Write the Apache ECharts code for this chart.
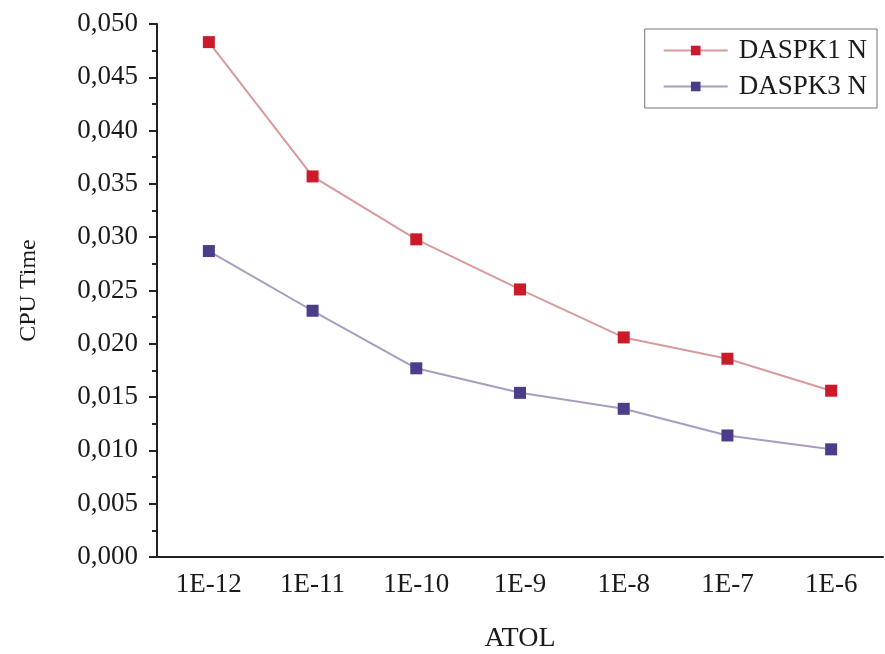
<!DOCTYPE html>
<html>
<head>
<meta charset="utf-8">
<script src="https://cdn.jsdelivr.net/npm/echarts@6/dist/echarts.min.js"></script>
<style>html,body{margin:0;padding:0;background:#fff}#c{width:885px;height:654px}</style>
</head>
<body>
<div id="c"></div>
<script>
const categories = ['1E-12','1E-11','1E-10','1E-9','1E-8','1E-7','1E-6'];
const daspk1 = [0.0483, 0.0357, 0.0298, 0.0251, 0.0206, 0.0186, 0.0156];
const daspk3 = [0.0287, 0.0231, 0.0177, 0.0154, 0.0139, 0.0114, 0.0101];
const seriesNames = ['DASPK1 N', 'DASPK3 N'];
const yTicks = {min: 0, max: 0.05, interval: 0.005};

const font = '"Liberation Serif", "Times New Roman", serif';
const chart = echarts.init(document.getElementById('c'));
chart.setOption({
  animation: false,
  backgroundColor: '#fff',
  grid: {left: 157, right: 2, top: 24, bottom: 97, outerBoundsMode: 'none', containLabel: false},
  legend: {
    right: 8, top: 29,
    orient: 'vertical',
    itemWidth: 64, itemHeight: 12, itemGap: 9,
    padding: [8, 10, 8, 18],
    borderColor: '#777', borderWidth: 1,
    textStyle: {fontFamily: font, fontSize: 27, color: '#1a1a1a', padding: [0, 0, 0, 6]},
    data: seriesNames
  },
  xAxis: [{
    type: 'category', data: categories, boundaryGap: true,
    name: 'ATOL', nameLocation: 'middle', nameGap: 68,
    nameTextStyle: {fontFamily: font, fontSize: 28, color: '#1a1a1a'},
    axisLine: {lineStyle: {color: '#222', width: 2}},
    axisTick: {alignWithLabel: true, length: 8, lineStyle: {color: '#222', width: 2}},
    axisLabel: {fontFamily: font, fontSize: 27, color: '#1a1a1a', margin: 14},
    splitLine: {show: false}
  }, {
    type: 'category', data: categories, boundaryGap: true, position: 'bottom',
    axisLine: {show: false},
    axisTick: {alignWithLabel: false, length: 5, lineStyle: {color: '#222', width: 2}},
    axisLabel: {show: false},
    splitLine: {show: false}
  }],
  yAxis: {
    type: 'value', min: yTicks.min, max: yTicks.max, interval: yTicks.interval,
    name: 'CPU Time', nameLocation: 'middle', nameGap: 116,
    nameTextStyle: {fontFamily: font, fontSize: 24, color: '#1a1a1a'},
    axisLine: {show: true, lineStyle: {color: '#222', width: 2}},
    axisTick: {show: true, length: 8, lineStyle: {color: '#222', width: 2}},
    minorTick: {show: true, splitNumber: 2, length: 5, lineStyle: {color: '#222', width: 2}},
    axisLabel: {fontFamily: font, fontSize: 27, color: '#1a1a1a', margin: 19,
      formatter: v => v.toFixed(3).replace('.', ',')},
    splitLine: {show: false}
  },
  series: [{
    name: seriesNames[0], type: 'line', data: daspk1,
    symbol: 'rect', symbolSize: 12,
    itemStyle: {color: '#cc1a2a'},
    lineStyle: {color: '#d89a9a', width: 2}
  }, {
    name: seriesNames[1], type: 'line', data: daspk3,
    symbol: 'rect', symbolSize: 12,
    itemStyle: {color: '#4c3c8a'},
    lineStyle: {color: '#a99cbf', width: 2}
  }]
});
</script>
</body>
</html>
